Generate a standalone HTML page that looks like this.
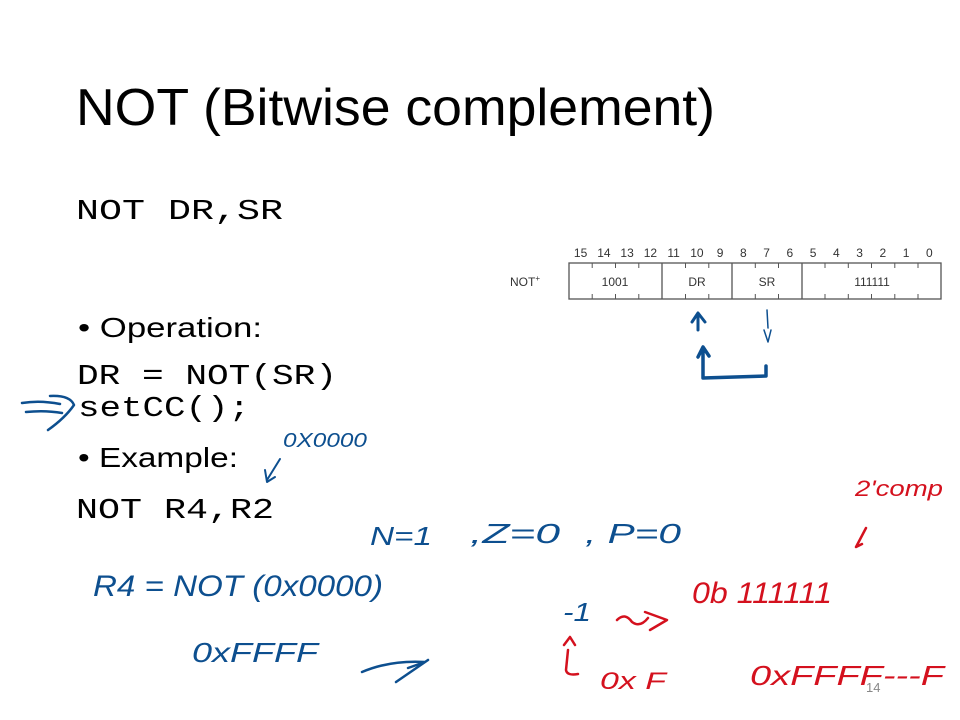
<!DOCTYPE html>
<html><head><meta charset="utf-8"><style>
html,body{margin:0;padding:0;background:#fff;}
svg{display:block;}
</style></head><body>
<svg width="960" height="720" viewBox="0 0 960 720" xmlns="http://www.w3.org/2000/svg">
<rect width="960" height="720" fill="#fff"/>
<g font-family="Liberation Sans, sans-serif" fill="#000">
<text x="76" y="125" font-size="52" textLength="639" lengthAdjust="spacingAndGlyphs">NOT (Bitwise complement)</text>
<text x="78" y="337" font-size="28" textLength="184" lengthAdjust="spacingAndGlyphs">• Operation:</text>
<text x="78" y="467" font-size="28" textLength="160" lengthAdjust="spacingAndGlyphs">• Example:</text>
</g>
<g font-family="Liberation Mono, monospace" fill="#000" font-size="29">
<text x="76" y="219" textLength="207" lengthAdjust="spacingAndGlyphs">NOT  DR,SR</text>
<text x="77" y="384" textLength="260" lengthAdjust="spacingAndGlyphs">DR = NOT(SR)</text>
<text x="78" y="416" textLength="172" lengthAdjust="spacingAndGlyphs">setCC();</text>
<text x="76" y="518" textLength="198" lengthAdjust="spacingAndGlyphs">NOT R4,R2</text>
</g>
<!-- instruction format table -->
<g font-family="Liberation Sans, sans-serif" font-size="12" fill="#333" text-anchor="middle">
<text x="580.6" y="257">15</text><text x="603.9" y="257">14</text><text x="627.1" y="257">13</text><text x="650.4" y="257">12</text>
<text x="673.6" y="257">11</text><text x="696.9" y="257">10</text><text x="720.1" y="257">9</text><text x="743.4" y="257">8</text>
<text x="766.6" y="257">7</text><text x="789.9" y="257">6</text><text x="813.1" y="257">5</text><text x="836.4" y="257">4</text>
<text x="859.6" y="257">3</text><text x="882.9" y="257">2</text><text x="906.1" y="257">1</text><text x="929.4" y="257">0</text>
<text x="525" y="286">NOT<tspan font-size="8" dy="-5">+</tspan></text>
<text x="615" y="286">1001</text>
<text x="697" y="286">DR</text>
<text x="767" y="286">SR</text>
<text x="872" y="286">111111</text>
</g>
<g stroke="#555" stroke-width="1.3" fill="none">
<rect x="569" y="263" width="372" height="36"/>
<line x1="662" y1="263" x2="662" y2="299"/>
<line x1="732" y1="263" x2="732" y2="299"/>
<line x1="802" y1="263" x2="802" y2="299"/>
</g>
<g stroke="#555" stroke-width="1">
<path d="M592.2 263v5M615.5 263v5M638.8 263v5M685.5 263v5M708.8 263v5M755.3 263v5M778.5 263v5M825 263v5M848.3 263v5M871.5 263v5M894.8 263v5M918 263v5"/>
<path d="M592.2 299v-5M615.5 299v-5M638.8 299v-5M685.5 299v-5M708.8 299v-5M755.3 299v-5M778.5 299v-5M825 299v-5M848.3 299v-5M871.5 299v-5M894.8 299v-5M918 299v-5"/>
</g>
<!-- blue handwriting -->
<g stroke="#0d4f8f" fill="none" stroke-linecap="round" stroke-linejoin="round">
<path d="M698 330 L698 314 M692 322 L698 313 L705 322" stroke-width="3"/>
<path d="M703 378 L703 348 M698 357 L703 347 L709 356 M703 378 L766 376 L766 366" stroke-width="3.5"/>
<path d="M767 310 L768 328 M764 330 L768 342 L771 330" stroke-width="1.5"/>
<path d="M22 403 Q40 400 60 404 M26 412 Q45 410 62 413 M50 396 Q70 395 74 405 Q65 418 48 430" stroke-width="2.5"/>
<path d="M280 459 L267 480 M265 470 L267 482 L275 477" stroke-width="2"/>
<path d="M362 672 Q390 660 425 662 L408 668 M396 682 L428 660" stroke-width="2.5"/>
</g>
<g font-family="Liberation Sans, sans-serif" font-style="italic" fill="#0d4f8f">
<text x="283" y="447" font-size="20" textLength="84" lengthAdjust="spacingAndGlyphs">0X0000</text>
<text x="370" y="545" font-size="26" textLength="62" lengthAdjust="spacingAndGlyphs">N=1</text>
<text x="470" y="543" font-size="28" textLength="90" lengthAdjust="spacingAndGlyphs">,Z=0</text>
<text x="585" y="543" font-size="28" textLength="96" lengthAdjust="spacingAndGlyphs">, P=0</text>
<text x="93" y="596" font-size="30" textLength="290" lengthAdjust="spacingAndGlyphs">R4 = NOT (0x0000)</text>
<text x="192" y="662" font-size="28" textLength="126" lengthAdjust="spacingAndGlyphs">0xFFFF</text>
<text x="563" y="621" font-size="26" textLength="28" lengthAdjust="spacingAndGlyphs">-1</text>
</g>
<!-- red handwriting -->
<g font-family="Liberation Sans, sans-serif" font-style="italic" fill="#d4111e">
<text x="855" y="496" font-size="22" textLength="88" lengthAdjust="spacingAndGlyphs">2'comp</text>
<text x="692" y="603" font-size="30" textLength="140" lengthAdjust="spacingAndGlyphs">0b 111111</text>
<text x="600" y="689" font-size="24" textLength="66" lengthAdjust="spacingAndGlyphs">0x F</text>
<text x="750" y="685" font-size="28" textLength="194" lengthAdjust="spacingAndGlyphs">0xFFFF---F</text>
</g>
<g stroke="#d4111e" fill="none" stroke-width="2.5" stroke-linecap="round" stroke-linejoin="round">
<path d="M866 528 L856 547 L862 544"/>
<path d="M617 620 Q625 612 632 622 Q640 628 648 618 M645 612 L667 620 L650 630"/>
<path d="M564 645 L570 637 L575 645 M568 650 L566 670 Q567 676 578 674"/>
</g>
<text x="866" y="692" font-family="Liberation Sans, sans-serif" font-size="13" fill="#888">14</text>
</svg>
</body></html>
